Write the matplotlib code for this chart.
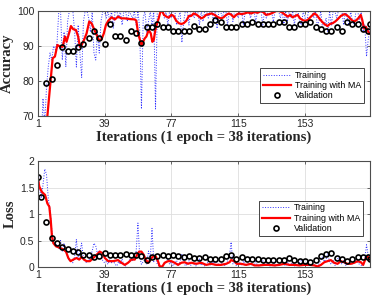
import numpy as np
import matplotlib
matplotlib.use("Agg")
import matplotlib.pyplot as plt

# ---- data ----
iters = np.arange(1, 191)

train_acc = [
    40, 55, 62, 75, 68, 78, 84, 88, 86, 90,
    89, 91, 100, 100, 86, 94, 84, 97, 100, 100,
    100, 94, 84, 96, 88, 81, 97, 100, 100, 98,
    94, 100, 88, 86, 94, 88, 97, 100, 100, 98,
    100, 97, 100, 95, 100, 100, 98, 100, 96, 100,
    100, 97, 100, 99, 98, 100, 96, 100, 95, 72,
    98, 100, 94, 97, 100, 96, 100, 72, 100, 100,
    100, 100, 98, 100, 96, 100, 98, 100, 100, 96,
    98, 100, 91, 97, 100, 100, 96, 100, 100, 98,
    100, 100, 96, 100, 97, 100, 100, 98, 100, 100,
    97, 100, 95, 100, 100, 98, 100, 100, 96, 100,
    100, 97, 100, 100, 98, 100, 100, 96, 100, 100,
    100, 98, 100, 100, 97, 100, 100, 100, 96, 100,
    98, 100, 100, 100, 97, 100, 100, 100, 98, 100,
    96, 100, 97, 100, 98, 100, 96, 100, 100, 97,
    96, 100, 98, 97, 100, 100, 100, 98, 100, 96,
    97, 100, 95, 96, 98, 94, 100, 96, 100, 100,
    98, 100, 100, 100, 96, 100, 98, 96, 100, 97,
    96, 100, 100, 97, 100, 94, 96, 87, 92, 95,
]

train_loss = [
    2.0, 1.5, 1.3, 1.55, 1.85, 1.75, 1.3, 1.1, 0.7, 0.45,
    0.45, 0.4, 0.35, 0.5, 0.3, 0.45, 0.3, 0.2, 0.12, 0.1,
    0.08, 0.2, 0.52, 0.15, 0.3, 0.45, 0.15, 0.1, 0.08, 0.12,
    0.2, 0.3, 0.45, 0.4, 0.25, 0.3, 0.25, 0.12, 0.08, 0.1,
    0.05, 0.15, 0.08, 0.12, 0.05, 0.02, 0.1, 0.05, 0.15, 0.03,
    0.02, 0.08, 0.1, 0.2, 0.12, 0.2, 0.3, 0.83, 0.2, 0.05,
    0.1, 0.15, 0.05, 0.3, 0.15, 0.73, 0.1, 0.2, 0.05, 0.02,
    0.01, 0.02, 0.05, 0.1, 0.15, 0.05, 0.1, 0.02, 0.08, 0.12,
    0.03, 0.1, 0.25, 0.1, 0.02, 0.05, 0.12, 0.03, 0.08, 0.05,
    0.02, 0.1, 0.15, 0.03, 0.08, 0.02, 0.05, 0.12, 0.03, 0.06,
    0.1, 0.02, 0.12, 0.03, 0.05, 0.08, 0.02, 0.05, 0.12, 0.2,
    0.47, 0.05, 0.1, 0.02, 0.05, 0.08, 0.03, 0.12, 0.02, 0.05,
    0.08, 0.03, 0.05, 0.02, 0.1, 0.03, 0.02, 0.05, 0.12, 0.03,
    0.05, 0.08, 0.02, 0.03, 0.1, 0.02, 0.05, 0.03, 0.08, 0.12,
    0.05, 0.02, 0.1, 0.03, 0.05, 0.08, 0.02, 0.05, 0.03, 0.1,
    0.12, 0.03, 0.05, 0.08, 0.02, 0.03, 0.02, 0.05, 0.02, 0.03,
    0.06, 0.12, 0.2, 0.1, 0.15, 0.25, 0.08, 0.05, 0.12, 0.03,
    0.05, 0.2, 0.1, 0.05, 0.12, 0.03, 0.05, 0.08, 0.12, 0.05,
    0.1, 0.15, 0.08, 0.05, 0.03, 0.02, 0.15, 0.42, 0.2, 0.1,
]

# moving average (red), sampled where read
ma_acc_iter = [
    6.5, 8, 9.5, 10.8, 12.2, 13.7, 15.2, 16.5, 17.4, 18.8, 19.9, 21.2, 22.7,
    24, 25, 25.9, 27.3, 28.8, 30.3, 31.6, 32.9, 34.5, 35.8, 37.3, 38.6, 39.8,
    41.1, 43, 44.9, 46.7, 48.6, 50.5, 53.4, 56.2, 57.1, 58.1, 60, 61.9, 62.8,
    64.1, 65.3, 66.2, 67, 67.9, 68.9, 69.8, 70.8, 71.7, 72.8, 74.2, 75.5, 77,
    78.3, 79.8, 81.3, 82.7, 84, 85.5, 87, 88.3, 89.7, 91.2, 92.7, 94, 95.3,
    96.8, 98.4, 99.9, 101.6, 103.5, 105.3, 106.7, 108.2, 109.7, 111.2, 112.5,
    113.9, 115.4, 116.9, 118.6, 120.5, 122.4, 124.3, 126.1, 128, 129.4, 130.9,
    132.8, 134.7, 136.5, 138.4, 140.3, 141.8, 143.3, 144.6, 145.9, 147.5,
    148.8, 150.2, 151.7, 153.2, 154.5, 156.4, 158.3, 159.6, 161.1, 162.6, 164,
    165.8, 167.2, 168.7, 170.2, 171.5, 173.4, 175.3, 176.6, 178.1, 179.6, 181,
    182.3, 183.8, 184.7, 185.6, 186.6, 187.6, 188.5, 189.4, 190,
]
ma_acc = [
    70, 78.4, 86.5, 87, 90.3, 89.8, 89.8, 92.7, 91.2, 93.6, 95.7, 94.8, 94.6,
    92.7, 89.8, 90.2, 91.7, 93.6, 97, 96.5, 95, 93.1, 91.7, 91.9, 93.6, 96,
    97.2, 98.2, 97.6, 98.4, 97.9, 97.9, 97.7, 97.6, 97.2, 93.6, 90.3, 92.2, 92.7,
    94.6, 93.6, 91.2, 91.7, 94.6, 96.5, 97.9, 99.8, 100, 98.9, 98.4, 98.1, 98.9,
    98.6, 97.2, 96.5, 96.3, 96.5, 97.2, 98.6, 98.6, 99.3, 99, 98.4, 97.9, 98.2,
    98.9, 99.1, 99.3, 98.9, 98.2, 97.9, 98.2, 98.9, 99.3, 98.9, 98.2,
    98.9, 99.3, 99.1, 99.3, 99.6, 99.3, 99.7, 99.5, 100, 99.6, 98.9,
    99.1, 99.5, 100, 100, 99.5, 98.9, 98.4, 98.9, 98.2, 98.6,
    98.9, 97.9, 97.4, 97.2, 97.4, 98.4, 99.3, 98.9, 97.9, 97, 96.3,
    95.7, 96.3, 96.5, 97, 97.6, 98.6, 99.1, 98.9, 98.2, 97.4, 97,
    97.4, 98.2, 98.9, 97.4, 95, 95.5, 94.6, 93.6, 93.5,
]

ma_loss_iter = [
    1, 1.9, 3.3, 5.2, 6.5, 7.6, 8.4, 9.1, 9.9, 11.4, 13.7, 15.6, 17.1, 18.4,
    19.7, 21.2, 23.1, 24.6, 26, 27.3, 28.8, 30.7, 32.6, 34.5, 36.3, 37.9, 39.2,
    41.1, 43.9, 46.7, 48.6, 50.5, 52.4, 54.3, 56.2, 57.5, 58.7, 60, 61.3, 62.4,
    63.8, 65.1, 66.6, 68.1, 69.4, 70.4, 71.9, 73.2, 75.1, 77, 78.9, 80.8, 82.7,
    84.6, 86.4, 88.3, 91.2, 94, 96.8, 99.7, 102.5, 105.3, 108.2, 110.1, 111,
    112.9, 114.2, 116.7, 119.5, 122.4, 124.3, 127.1, 130, 132.8, 135.6, 138.4,
    141.3, 144.1, 146.9, 149.8, 152.6, 155.4, 158.3, 160.2, 162.1, 164, 165.8,
    167.7, 169.6, 171.5, 173.4, 175.3, 177.2, 179.1, 181, 182.9, 184.8, 186.1,
    187.6, 188.5, 189.4, 190,
]
ma_loss = [
    1.7, 1.52, 1.42, 1.36, 1.2, 1.14, 0.89, 0.58, 0.45, 0.39, 0.36, 0.33, 0.29, 0.17,
    0.11, 0.14, 0.17, 0.14, 0.19, 0.14, 0.11, 0.11, 0.17, 0.23, 0.29, 0.26, 0.17,
    0.11, 0.11, 0.13, 0.08, 0.04, 0.08, 0.14, 0.14, 0.23, 0.29, 0.29, 0.23, 0.14,
    0.08, 0.14, 0.2, 0.2, 0.11, 0.01, 0.01, 0.08, 0.11, 0.11, 0.08, 0.04, 0.08,
    0.09, 0.06, 0.08, 0.06, 0.08, 0.04, 0.06, 0.04, 0.04, 0.06, 0.09, 0.13,
    0.11, 0.06, 0.06, 0.04, 0.06, 0.03, 0.03, 0.04, 0.04, 0.03, 0.04,
    0.06, 0.04, 0.04, 0.03, 0.04, 0.04, 0.03, 0.01, 0.04, 0.09, 0.11,
    0.13, 0.08, 0.06, 0.11, 0.09, 0.06, 0.06, 0.08, 0.11, 0.09, 0.04,
    0.17, 0.2, 0.17, 0.17,
]

# validation (black circles)
val_acc_iter = list(range(6, 190, 3)) + [190]
val_acc = [
    79.4, 80.7, 84.6, 89.6, 88.5, 88.5, 89.7, 90.5, 92.4, 94.2,
    92.3, 90.5, 96.2, 93.0, 93.0, 91.6, 94.3, 93.6, 91.0, 95.5,
    95.5, 96.2, 95.5, 95.5, 94.2, 94.2, 94.2, 94.2, 95.6, 94.9,
    94.9, 96.2, 97.5, 96.9, 95.5, 95.5, 95.5, 96.2, 96.2, 96.9,
    96.2, 96.2, 96.2, 96.2, 96.9, 96.9, 95.5, 95.5, 96.2, 96.2,
    96.9, 95.5, 94.9, 94.2, 94.2, 95.5, 94.2, 96.9, 96.2, 96.2,
    94.9, 94.2, 96.2,
]
val_loss_iter = [1] + list(range(3, 190, 3)) + [190]
val_loss = [
    1.70, 1.33, 0.85, 0.55, 0.45, 0.38, 0.34, 0.31, 0.28, 0.23,
    0.23, 0.19, 0.21, 0.26, 0.23, 0.22, 0.22, 0.24, 0.22, 0.23,
    0.21, 0.14, 0.18, 0.20, 0.23, 0.20, 0.23, 0.21, 0.19, 0.20,
    0.17, 0.17, 0.18, 0.16, 0.15, 0.15, 0.21, 0.22, 0.16, 0.18,
    0.16, 0.15, 0.15, 0.14, 0.14, 0.14, 0.14, 0.13, 0.17, 0.13,
    0.11, 0.11, 0.09, 0.13, 0.21, 0.24, 0.26, 0.17, 0.16, 0.11,
    0.16, 0.19, 0.19, 0.19, 0.16,
]

xticks = [1, 39, 77, 115, 153]
xlabel = "Iterations (1 epoch = 38 iterations)"

plt.rcParams["font.family"] = ["Liberation Sans", "DejaVu Sans"]

fig = plt.figure(figsize=(3.82, 3.06), dpi=100)
ax1 = fig.add_axes([0.0987, 0.621, 0.870, 0.343])
ax2 = fig.add_axes([0.0987, 0.1275, 0.870, 0.346])

axis_col = "#4d4d4d"


def style_axes(ax):
    ax.grid(True, color="#dedede", linewidth=0.6)
    ax.set_axisbelow(True)
    for s in ax.spines.values():
        s.set_color(axis_col)
        s.set_linewidth(0.8)
    ax.tick_params(direction="in", length=2.5, width=0.6, colors=axis_col,
                   labelcolor="#262626", labelsize=7.5, top=True, right=True,
                   pad=2.5)
    ax.set_xticks(xticks)
    ax.set_xlim(1, 190)
    ax.set_xlabel(xlabel, family="Liberation Serif", fontweight="bold",
                  fontsize=10.5, color="#262626", labelpad=1)


def add_legend(ax, anchor):
    leg = ax.legend(loc="upper left", bbox_to_anchor=anchor, fontsize=6.4,
                    fancybox=False, edgecolor="#262626", framealpha=1,
                    handlelength=3.2, borderpad=0.3, labelspacing=0.15,
                    handletextpad=0.4, borderaxespad=0)
    leg.get_frame().set_linewidth(0.6)


# accuracy panel
ax1.plot(iters, train_acc, color="#3030ff", linestyle=":", linewidth=0.7,
         label="Training")
ax1.plot(ma_acc_iter, ma_acc, color="#ff0000", linewidth=1.6,
         label="Training with MA")
ax1.plot(val_acc_iter, val_acc, linestyle="none", marker="o", markersize=3.6,
         markerfacecolor="none", markeredgecolor="black", markeredgewidth=1.2,
         label="Validation")
ax1.set_ylim(70, 100)
ax1.set_yticks([70, 80, 90, 100])
style_axes(ax1)
ax1.set_ylabel("Accuracy", family="Liberation Serif", fontweight="bold",
               fontsize=10.5, color="#262626", labelpad=2)
add_legend(ax1, (0.669, 0.457))

# loss panel
ax2.plot(iters, train_loss, color="#3030ff", linestyle=":", linewidth=0.7,
         label="Training")
ax2.plot(ma_loss_iter, ma_loss, color="#ff0000", linewidth=1.6,
         label="Training with MA")
ax2.plot(val_loss_iter, val_loss, linestyle="none", marker="o", markersize=3.6,
         markerfacecolor="none", markeredgecolor="black", markeredgewidth=1.2,
         label="Validation")
ax2.set_ylim(0, 2)
ax2.set_yticks([0, 0.5, 1, 1.5, 2])
ax2.set_yticklabels(["0", "0.5", "1", "1.5", "2"])
style_axes(ax2)
ax2.set_ylabel("Loss", family="Liberation Serif", fontweight="bold",
               fontsize=10.5, color="#262626", labelpad=2)
add_legend(ax2, (0.666, 0.625))

fig.savefig("out.png", dpi=100)
